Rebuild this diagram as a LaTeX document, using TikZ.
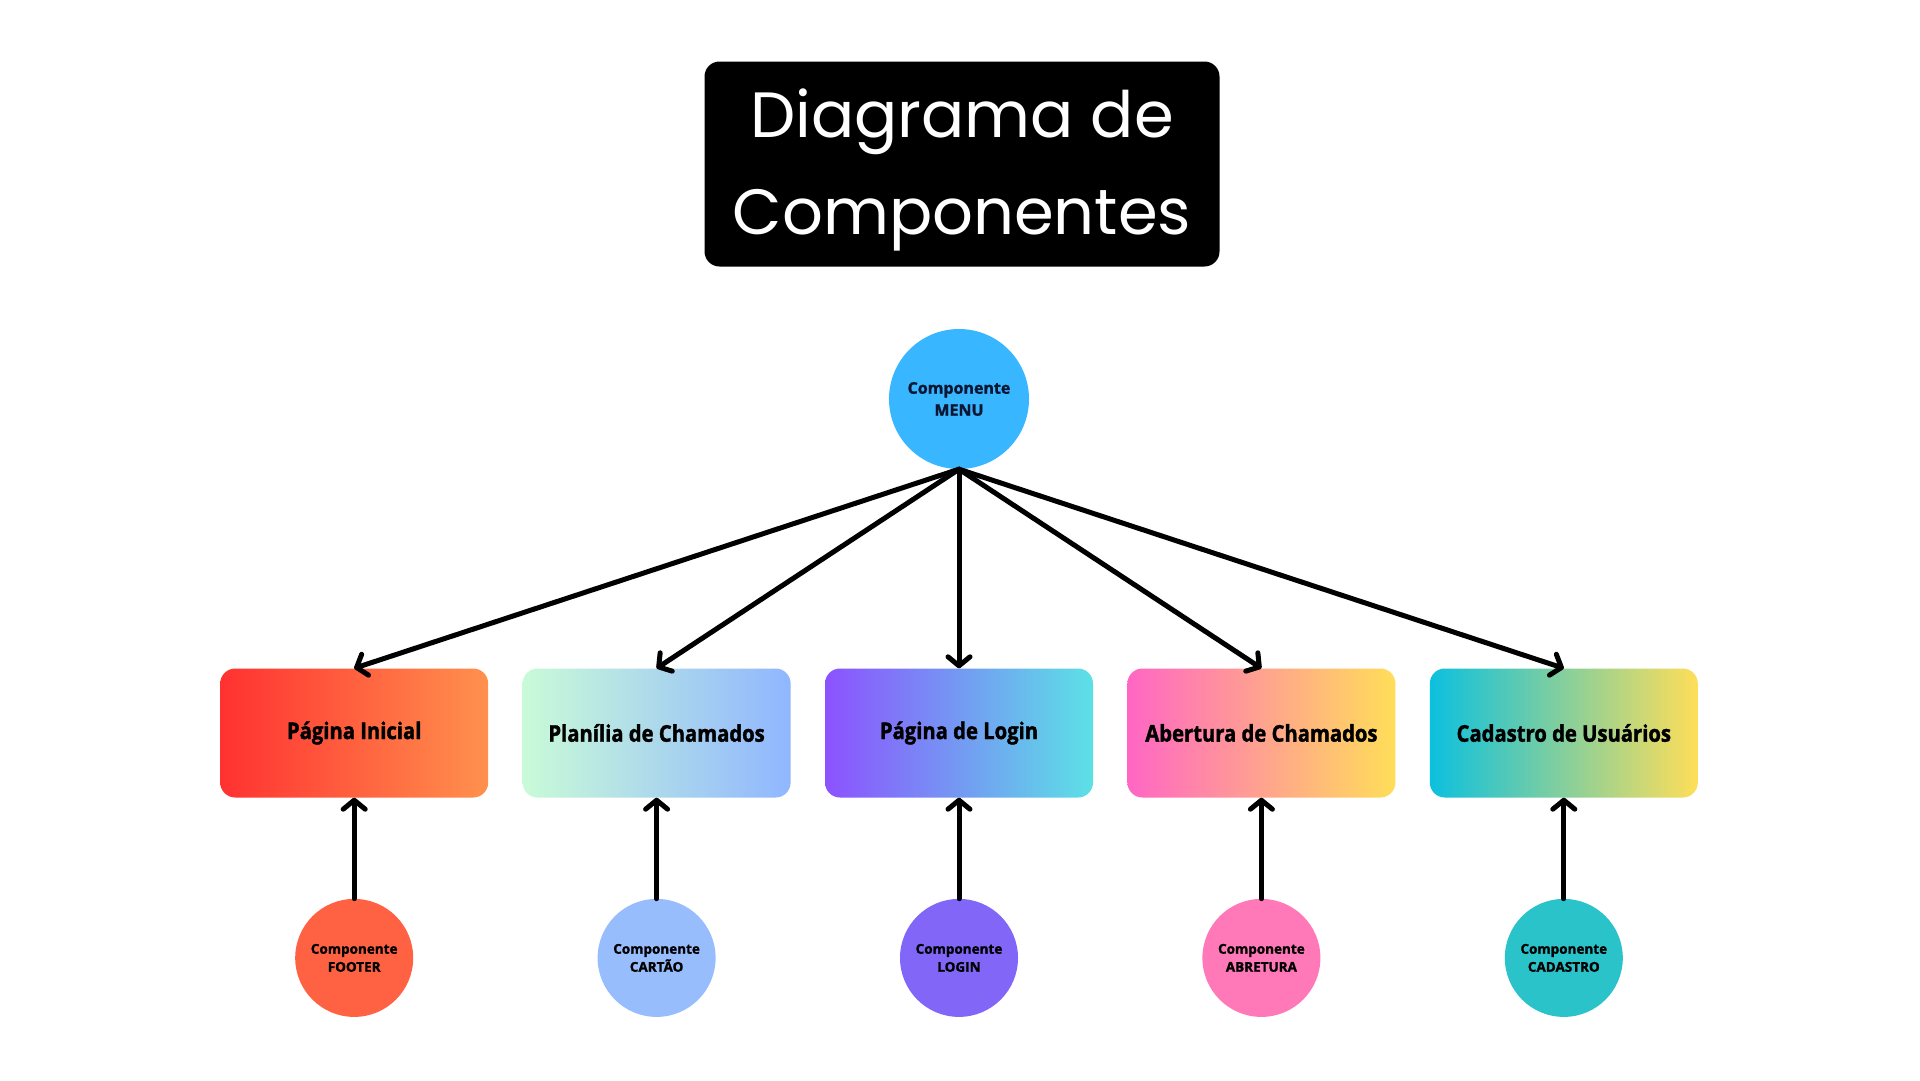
\documentclass[tikz,border=0pt]{standalone}
\usepackage{fontspec}
\usepackage{xcolor}
\usepackage{tikz}
\usetikzlibrary{arrows.meta, positioning}

\newfontfamily\titlefont{Poppins}
\newfontfamily\boxfont[FakeStretch=0.88, BoldFeatures={FakeBold=1.6}]{Open Sans}
\newfontfamily\compfont[BoldFeatures={FakeBold=1.4}]{Open Sans}

\definecolor{menublue}{HTML}{38B6FF}
\definecolor{footerred}{HTML}{FF6242}
\definecolor{cartaoblue}{HTML}{97BDFD}
\definecolor{loginpurple}{HTML}{8166F8}
\definecolor{aberturapink}{HTML}{FF78B8}
\definecolor{cadastroteal}{HTML}{2BC3CA}
\definecolor{navytext}{HTML}{0B1633}

\begin{document}
\begin{tikzpicture}[
    x=1pt, y=-1pt,
    title/.style={rectangle, fill=black, rounded corners=15pt, minimum width=515pt, minimum height=205pt, text=white, align=center, font=\titlefont\fontsize{64}{97}\selectfont},
    pagebox/.style={rectangle, rounded corners=15pt, minimum width=268pt, minimum height=129pt, inner sep=0pt, font=\boxfont\bfseries\fontsize{23}{28}\selectfont},
    comp/.style={circle, minimum size=118pt, inner sep=0pt, align=center, font=\compfont\bfseries\fontsize{13.5}{18}\selectfont},
    arrow/.style={-{Straight Barb[length=9pt, width=22pt, round]}, line width=5pt, line cap=round}
]

\useasboundingbox[fill=white] (0,0) rectangle (1920,1080);

\node[title] (title) at (962,164) {};
\node[text=white, align=center, font=\titlefont\fontsize{64}{97}\selectfont] (titletext) at (962,170) {Diagrama de\\Componentes};

\node[comp, fill=menublue, text=navytext, minimum size=140pt, font=\compfont\bfseries\fontsize{16}{22}\selectfont] (menu) at (959,399) {Componente\\MENU};

% telas
\node[pagebox, left color={rgb,255:red,140;green,82;blue,255}, right color={rgb,255:red,92;green,225;blue,230}] (login) at (959,733) {Página de Login};
\node[pagebox, left color={rgb,255:red,201;green,251;blue,216}, right color={rgb,255:red,144;green,182;blue,255}, left=34pt of login] (planilia) {Planília de Chamados};
\node[pagebox, left color={rgb,255:red,255;green,49;blue,49}, right color={rgb,255:red,255;green,145;blue,77}, left=34pt of planilia] (inicial) {Página Inicial};
\node[pagebox, left color={rgb,255:red,255;green,102;blue,196}, right color={rgb,255:red,255;green,222;blue,89}, right=34pt of login] (abertura) {Abertura de Chamados};
\node[pagebox, left color={rgb,255:red,12;green,192;blue,223}, right color={rgb,255:red,255;green,222;blue,89}, right=34pt of abertura] (cadastro) {Cadastro de Usuários};

% componentes
\node[comp, fill=footerred, below=101pt of inicial] (footer) {Componente\\FOOTER};
\node[comp, fill=cartaoblue, below=101pt of planilia] (cartao) {Componente\\CARTÃO};
\node[comp, fill=loginpurple, below=101pt of login] (complogin) {Componente\\LOGIN};
\node[comp, fill=aberturapink, below=101pt of abertura] (compabertura) {Componente\\ABRETURA};
\node[comp, fill=cadastroteal, below=101pt of cadastro] (compcadastro) {Componente\\CADASTRO};

\draw[arrow] (menu.south) -- (inicial.north);
\draw[arrow] (menu.south) -- (planilia.north);
\draw[arrow] (menu.south) -- (login.north);
\draw[arrow] (menu.south) -- (abertura.north);
\draw[arrow] (menu.south) -- (cadastro.north);

\draw[arrow] (footer) -- (inicial);
\draw[arrow] (cartao) -- (planilia);
\draw[arrow] (complogin) -- (login);
\draw[arrow] (compabertura) -- (abertura);
\draw[arrow] (compcadastro) -- (cadastro);

\end{tikzpicture}
\end{document}
